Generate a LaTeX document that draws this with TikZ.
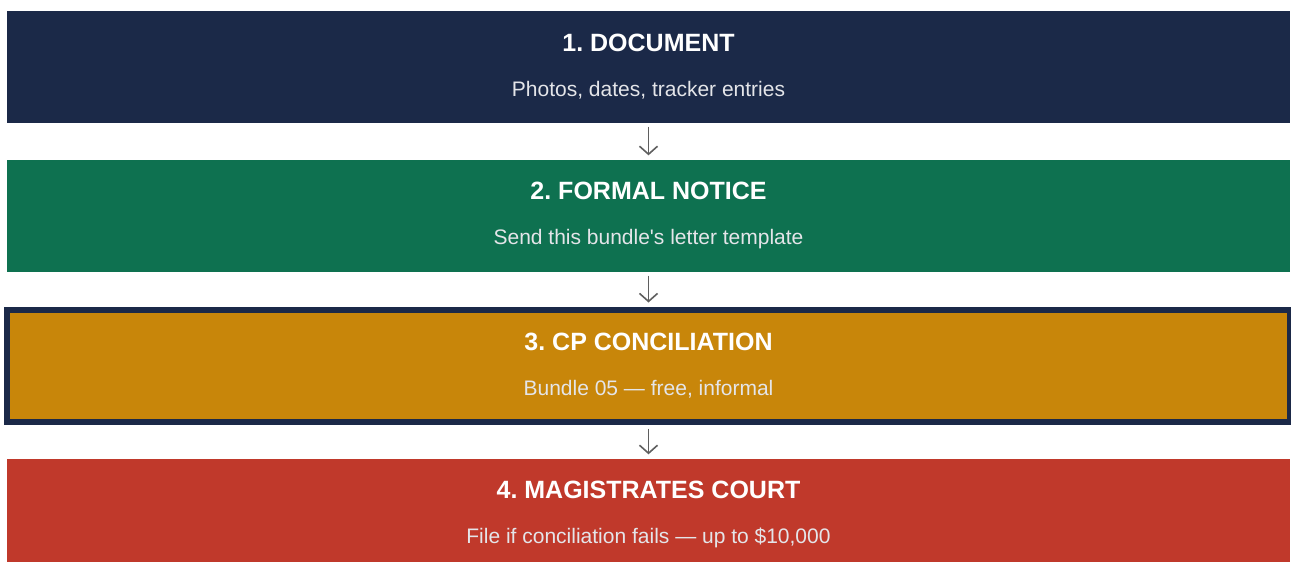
\documentclass[tikz,border=0pt]{standalone}
\usepackage{fontspec}
\setmainfont{Liberation Sans}[Ligatures=TeXOff]
\frenchspacing
\usetikzlibrary{arrows.meta,positioning}
\definecolor{stepnavy}{RGB}{27,41,72}
\definecolor{stepgreen}{RGB}{14,113,80}
\definecolor{stepamber}{RGB}{200,134,10}
\definecolor{stepred}{RGB}{192,57,43}
\definecolor{flowgray}{RGB}{95,95,95}
\tikzset{stage box/.style={rectangle, fill=#1, inner sep=0pt,
    minimum width=1283pt, minimum height=112pt, align=center,
    text=white, font=\fontsize{21}{45}\selectfont}}
\tikzset{current box/.style={stage box=#1, draw=stepnavy, line width=6pt}}
\tikzset{flow edge/.style={draw=flowgray, line width=1.6pt,
    -{Straight Barb[length=8pt,width=18pt]}, shorten <=4pt, shorten >=4pt}}
\newcommand{\stagetitle}[1]{{\fontsize{25}{45}\selectfont\bfseries #1}}
\newcommand{\stagenote}[1]{{\color{white!88!stepnavy}#1}}

\begin{document}
\begin{tikzpicture}
  [x=1pt, y=-1pt]
  \clip (0,0) rectangle (1291,562);
  \useasboundingbox (0,0) rectangle (1291,562);

  \node [stage box=stepnavy]    (document) at (648.5, 66.5) {\stagetitle{1. DOCUMENT}\\\stagenote{Photos, dates, tracker entries}};
  \node [stage box=stepgreen]   (notice)   at (648.5,215.5) {\stagetitle{2. FORMAL NOTICE}\\\stagenote{Send this bundle's letter template}};
  \node [current box=stepamber] (concil)   at (648.5,365.5) {\stagetitle{3. CP CONCILIATION}\\\stagenote{Bundle 05 — free, informal}};
  \node [stage box=stepred]     (court)    at (648.5,514.5) {\stagetitle{4. MAGISTRATES COURT}\\\stagenote{File if conciliation fails — up to \$10,000}};

  \draw [flow edge] (document) to (notice);
  \draw [flow edge] (notice)   to (concil);
  \draw [flow edge] (concil)   to (court);
\end{tikzpicture}
\end{document}
